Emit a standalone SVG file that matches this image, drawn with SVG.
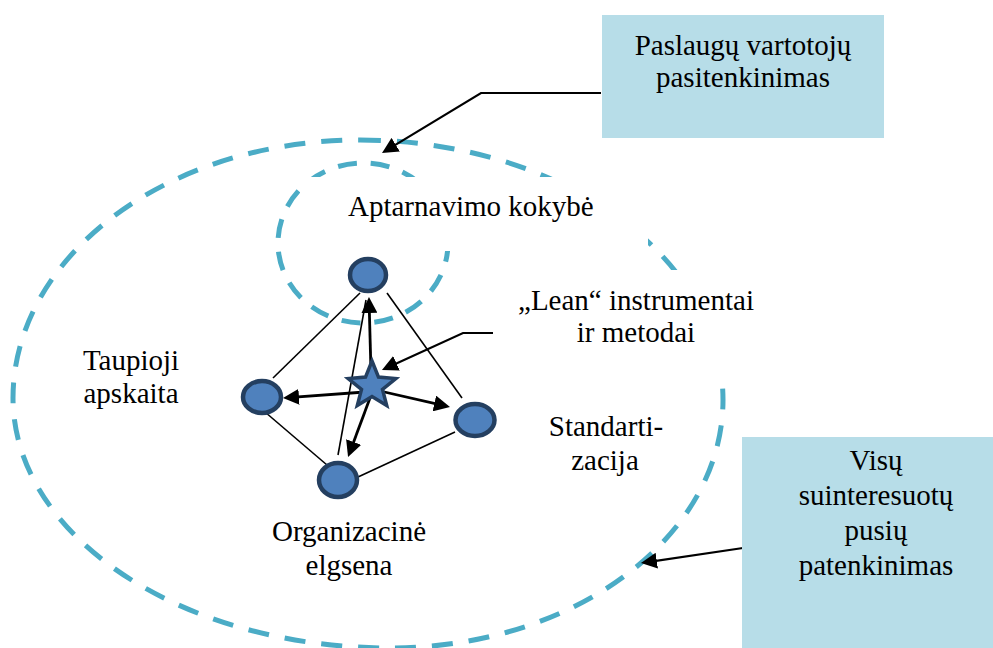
<svg xmlns="http://www.w3.org/2000/svg" width="993" height="648" viewBox="0 0 993 648">
  <style>
    .ring { fill: none; stroke: #4bacc6; stroke-width: 5; stroke-dasharray: 21 16; }
    .inner-ring { fill: none; stroke: #4bacc6; stroke-width: 5; stroke-dasharray: 19 14; }
    .label { font-family: "Liberation Serif", "Times New Roman", serif; font-size: 29px; fill: #000; }
    .mid { text-anchor: middle; }
    .mask { fill: #fff; stroke: none; }
    .callout { fill: #b7dde8; stroke: none; }
    .edge { fill: none; stroke: #000; stroke-width: 1.6; }
    .arrow { fill: none; stroke: #000; stroke-width: 2.8; marker-end: url(#head); }
    .leader { fill: none; stroke: #000; stroke-width: 2.2; marker-end: url(#head); }
    .node { fill: #4f81bd; stroke: #243f60; stroke-width: 4.5; }
    .star { fill: #4f81bd; stroke: #243f60; stroke-width: 3.5; stroke-linejoin: miter; }
  </style>
  <defs>
    <marker id="head" viewBox="0 0 16 16" refX="11" refY="8" markerWidth="16" markerHeight="16" markerUnits="userSpaceOnUse" orient="auto">
      <path d="M0,0 L16,8 L0,16 z" fill="#000"/>
    </marker>
  </defs>

  <!-- outer dashed boundary: Visų suinteresuotų pusių patenkinimas -->
  <g id="outer-ring">
    <path class="ring" d="M360,140 A363,260 0 0 1 723,400 A333,248 0 0 1 390,648 A377,250 0 0 1 13,398 A347,258 0 0 1 360,140 Z"/>
  </g>

  <!-- inner dashed boundary: service quality -->
  <g id="inner-ring">
    <ellipse class="inner-ring" cx="363" cy="243" rx="85" ry="80"/>
  </g>

  <!-- label backgrounds that break the dashed rings -->
  <rect class="mask" x="300" y="177" width="348" height="74"/>
  <rect class="mask" x="493" y="270" width="287" height="113"/>

  <!-- free labels -->
  <g id="label-aptarnavimas">
    <text class="label" x="348" y="216">Aptarnavimo kokybė</text>
  </g>
  <g id="label-lean">
    <text class="label mid" x="636" y="310">„Lean“ instrumentai</text>
    <text class="label mid" x="636" y="342">ir metodai</text>
  </g>
  <g id="label-taupioji">
    <text class="label mid" x="131" y="370">Taupioji</text>
    <text class="label mid" x="131" y="403">apskaita</text>
  </g>
  <g id="label-standartizacija">
    <text class="label mid" x="606" y="436">Standarti-</text>
    <text class="label mid" x="605" y="470">zacija</text>
  </g>
  <g id="label-organizacine">
    <text class="label mid" x="349" y="541">Organizacinė</text>
    <text class="label mid" x="349" y="575">elgsena</text>
  </g>

  <!-- connectors -->
  <g id="connectors">
    <line class="edge" x1="360" y1="293" x2="273" y2="378"/>
    <line class="edge" x1="387" y1="293" x2="462" y2="398"/>
    <line class="edge" x1="265" y1="412" x2="327" y2="465"/>
    <line class="edge" x1="358" y1="477" x2="455" y2="432"/>
    <line class="edge" x1="338" y1="455" x2="366" y2="300"/>

    <line class="arrow" x1="371" y1="372" x2="369.1" y2="302"/>
    <line class="arrow" x1="365" y1="392" x2="288" y2="397.7"/>
    <line class="arrow" x1="380" y1="391" x2="445.1" y2="405.9"/>
    <line class="arrow" x1="370" y1="398" x2="349.8" y2="452.3"/>

    <polyline class="leader" points="601,93 481,93 386.3,150.4"/>
    <polyline class="leader" points="493,333 463,333 386.5,367.9"/>
    <polyline class="leader" points="743,548 645.9,562.3"/>
  </g>

  <!-- graph nodes -->
  <g id="node-top"><ellipse class="node" cx="368" cy="275" rx="18" ry="16"/></g>
  <g id="node-left"><ellipse class="node" cx="262" cy="397" rx="19" ry="16"/></g>
  <g id="node-right"><ellipse class="node" cx="475" cy="420" rx="19.5" ry="16"/></g>
  <g id="node-bottom"><ellipse class="node" cx="338" cy="480" rx="19" ry="17"/></g>
  <g id="node-lean">
    <polygon class="star" points="372,361 378.5,377.1 395.8,378.6 382.5,389.4 386.7,405.5 372,396.5 357.3,405.5 361.5,389.4 348.2,378.6 365.5,377.1"/>
  </g>

  <!-- callout boxes -->
  <g id="box-vartotojai">
    <rect class="callout" x="602" y="15" width="282" height="123"/>
    <text class="label mid" x="743" y="55">Paslaugų vartotojų</text>
    <text class="label mid" x="743" y="87">pasitenkinimas</text>
  </g>
  <g id="box-suinteresuoti">
    <rect class="callout" x="742" y="437" width="251" height="211"/>
    <text class="label mid" x="876" y="470">Visų</text>
    <text class="label mid" x="876" y="505">suinteresuotų</text>
    <text class="label mid" x="876" y="540">pusių</text>
    <text class="label mid" x="876" y="575">patenkinimas</text>
  </g>
</svg>
